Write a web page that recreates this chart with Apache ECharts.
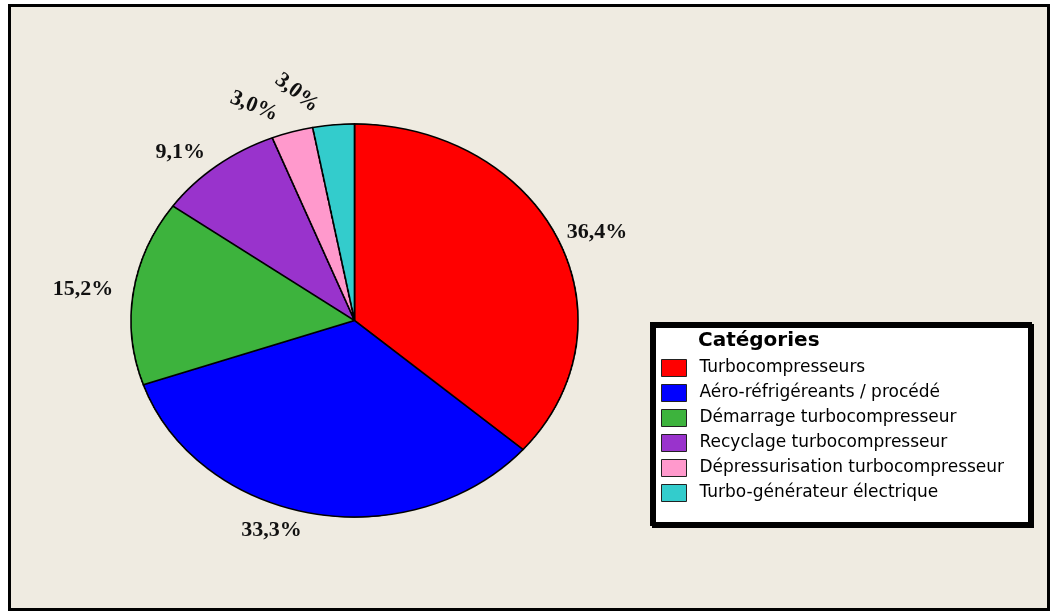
<!DOCTYPE html>
<html>
<head>
<meta charset="utf-8">
<script src="https://cdn.jsdelivr.net/npm/echarts@6.0.0/dist/echarts.min.js"></script>
<style>
  html, body { margin: 0; padding: 0; background: #fff; }
  #frame {
    position: absolute; left: 8px; top: 4px; width: 1042px; height: 607px;
    box-sizing: border-box; border: 3px solid #000; background: #efebe1;
  }
  #base, #pie { position: absolute; left: 0; top: 0; width: 1051px; height: 611px; }
  /* the reference pie is an ellipse: stretch the slice layer sideways */
  #pie { transform: scaleX(1.1374); transform-origin: 354.5px 320.5px; }
</style>
</head>
<body>
<div id="frame"></div>
<div id="base"></div>
<div id="pie"></div>
<script>
// data (percent of total)
var categories = [
  "Turbocompresseurs",
  "Aéro-réfrigéreants / procédé",
  "Démarrage turbocompresseur",
  "Recyclage turbocompresseur",
  "Dépressurisation turbocompresseur",
  "Turbo-générateur électrique"
];
var shares = [36.4, 33.3, 15.2, 9.1, 3.0, 3.0];

var colors = ["#ff0000", "#0000ff", "#3db33d", "#9933cc", "#ff99cc", "#33cccc"];
// the two small labels are tilted in the original
var labelTilt = { 4: -22, 5: -38 };
// a few labels sit a bit further from / closer to the pie
var labelReach = { 1: 7, 2: 25 };

var center = [354.5, 320.5];
var radius = 196.5;

function pieData(withLabels) {
  return categories.map(function (name, i) {
    var item = { name: name, value: shares[i], itemStyle: { color: colors[i] } };
    if (withLabels && labelTilt[i] !== undefined) {
      item.label = { rotate: labelTilt[i] };
    }
    if (withLabels && labelReach[i] !== undefined) {
      item.labelLine = { show: false, length: 17, length2: labelReach[i] };
    }
    return item;
  });
}

// base layer: labels, legend box and title
var base = echarts.init(document.getElementById("base"));
base.setOption({
  animation: false,
  backgroundColor: "transparent",
  title: {
    text: "Catégories",
    left: 698,
    top: 331,
    padding: 0,
    textStyle: { fontFamily: "DejaVu Sans", fontSize: 20, fontWeight: "bold", color: "#000" }
  },
  graphic: [{
    type: "rect",
    z: -1,
    shape: { x: 652, y: 324, width: 378, height: 200 },
    style: {
      fill: "#fff", stroke: "#000", lineWidth: 4,
      shadowColor: "#000", shadowOffsetX: 2, shadowOffsetY: 2, shadowBlur: 0
    }
  }],
  legend: {
    orient: "vertical",
    left: 661,
    top: 359,
    padding: 0,
    icon: "rect",
    itemWidth: 25,
    itemHeight: 17,
    itemGap: 7,
    selectedMode: false,
    data: categories,
    itemStyle: { borderColor: "#222", borderWidth: 1 },
    textStyle: {
      fontFamily: "DejaVu Sans", fontSize: 17, color: "#000",
      lineHeight: 17, padding: [0, 0, 0, 8]
    }
  },
  series: [{
    type: "pie",
    center: center,
    radius: radius,
    startAngle: 90,
    clockwise: true,
    avoidLabelOverlap: false,
    silent: true,
    itemStyle: { borderColor: "#000", borderWidth: 1.5 },
    label: {
      show: true,
      position: "outside",
      fontFamily: "Liberation Serif",
      fontWeight: "bold",
      fontSize: 22,
      color: "#111",
      formatter: function (p) {
        return p.value.toFixed(1).replace(".", ",") + "%";
      }
    },
    labelLine: { show: false, length: 17, length2: 13 },
    data: pieData(true)
  }]
});

// slice layer, stretched by css into the ellipse
var pie = echarts.init(document.getElementById("pie"), null, { devicePixelRatio: 2 });
pie.setOption({
  animation: false,
  backgroundColor: "transparent",
  series: [{
    type: "pie",
    center: center,
    radius: radius,
    startAngle: 90,
    clockwise: true,
    silent: true,
    itemStyle: { borderColor: "#000", borderWidth: 1.5 },
    label: { show: false },
    labelLine: { show: false },
    data: pieData(false)
  }]
});
</script>
</body>
</html>
